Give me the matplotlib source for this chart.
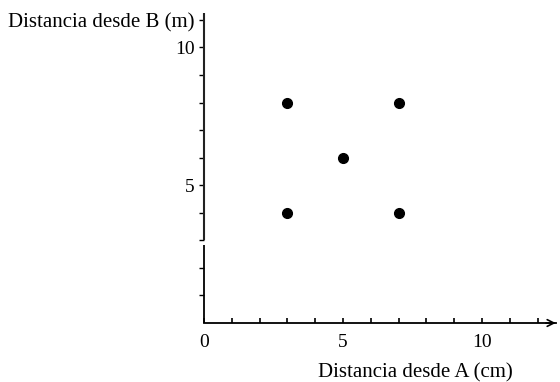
import matplotlib
matplotlib.use("Agg")
import matplotlib.pyplot as plt

x_vals = [3, 7, 5, 3, 7]
y_vals = [8, 8, 6, 4, 4]
x_major = [0, 5, 10]
x_major_labels = ["0", "5", "10"]
y_major = [5, 10, 11]
y_major_labels = ["5", "10", "Distancia desde B (m)"]
x_minor = [1, 2, 3, 4, 6, 7, 8, 9, 11, 12]
y_minor = [1, 2, 3, 4, 6, 7, 8, 9]
xlabel = "Distancia desde A (cm)"

plt.rcParams['font.family'] = ['Liberation Serif', 'DejaVu Serif']

fig = plt.figure(figsize=(5.6, 3.82), dpi=100)
ax = fig.add_axes([204/560, 59/382, 352/560, 310/382])
ax.set_xlim(0, 12.66)
ax.set_ylim(0, 11.25)

ax.plot(x_vals, y_vals, 'o', color='black', markersize=7, clip_on=False)

for s in ['top', 'right', 'left']:
    ax.spines[s].set_visible(False)
ax.spines['bottom'].set_linewidth(1.3)

# y axis line (with small gap as in reference)
ax.plot([0, 0], [0, 2.83], color='black', lw=1.3, clip_on=False, solid_capstyle='butt')
ax.plot([0, 0], [3.0, 11.25], color='#222222', lw=1.5, clip_on=False, solid_capstyle='butt')

# arrow on x axis
ax.annotate('', xy=(12.75, 0), xytext=(12.2, 0),
            arrowprops=dict(arrowstyle='->', color='black', lw=1.2, mutation_scale=12),
            annotation_clip=False)

ax.set_xticks(x_major)
ax.set_xticklabels(x_major_labels)
ax.set_xticks(x_minor, minor=True)
ax.set_yticks(y_major)
ax.set_yticklabels(y_major_labels)
ax.set_yticks(y_minor, minor=True)

ax.tick_params(axis='x', which='both', direction='in', length=3.5, width=1.2, labelsize=14, pad=8)
ax.tick_params(axis='y', which='both', direction='out', length=3.5, width=1.0, labelsize=14, pad=3)
ax.get_yticklabels()[2].set_fontsize(15)

ax.set_xlabel(xlabel, fontsize=15)
ax.xaxis.set_label_coords(415/352 - 204/352, -50/310)
ax.xaxis.label.set_ha('center')
ax.xaxis.label.set_va('center')

fig.savefig("out.png", dpi=100)
